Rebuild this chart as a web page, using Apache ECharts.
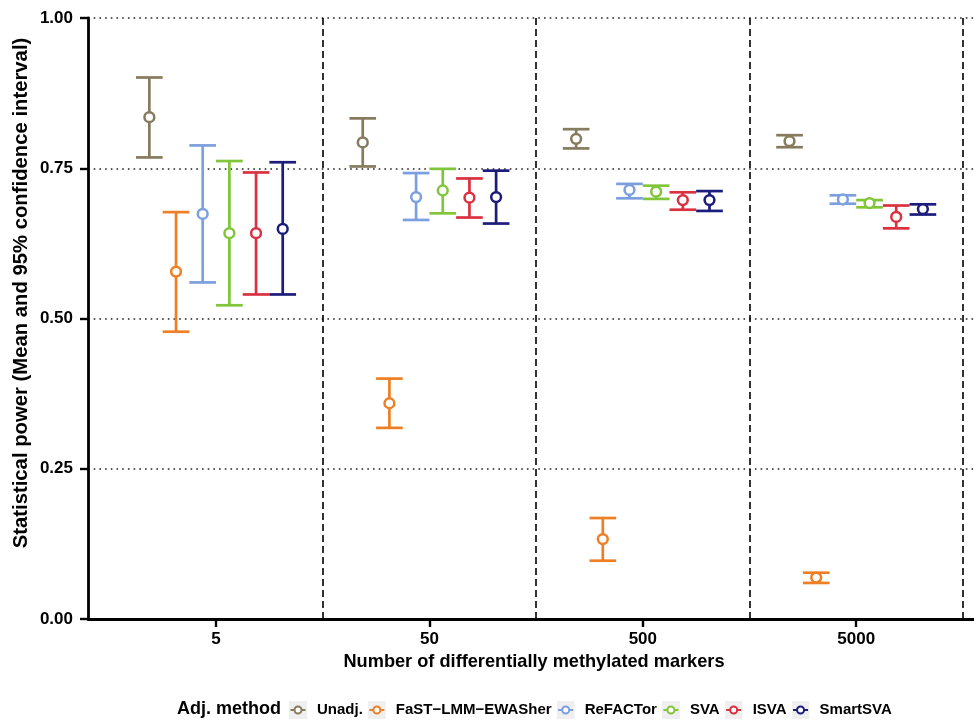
<!DOCTYPE html>
<html>
<head>
<meta charset="utf-8">
<title>Statistical power</title>
<script src="https://cdn.jsdelivr.net/npm/echarts@6/dist/echarts.min.js"></script>
<style>
  html, body { margin: 0; padding: 0; background: #fff; }
  #chart { width: 974px; height: 724px; }
</style>
</head>
<body>
<div id="chart"></div>
<script>
// categories on the x axis
const categories = ['5', '50', '500', '5000'];
const methods = ['Unadj.', 'FaST\u2212LMM\u2212EWASher', 'ReFACTor', 'SVA', 'ISVA', 'SmartSVA'];
const colors = ['#877b5e', '#ee7f24', '#7b9fdf', '#80c53a', '#da3040', '#1c1c7c'];

// mean and 95% CI, one value per category
const unadjMean = [0.835, 0.793, 0.799, 0.795];
const unadjLow = [0.768, 0.753, 0.783, 0.785];
const unadjHigh = [0.901, 0.833, 0.815, 0.805];

const fastMean = [0.578, 0.359, 0.133, 0.069];
const fastLow = [0.478, 0.318, 0.097, 0.060];
const fastHigh = [0.677, 0.400, 0.168, 0.077];

const refactorMean = [0.674, 0.702, 0.714, 0.698];
const refactorLow = [0.560, 0.664, 0.700, 0.691];
const refactorHigh = [0.788, 0.742, 0.724, 0.705];

const svaMean = [0.642, 0.713, 0.711, 0.692];
const svaLow = [0.522, 0.675, 0.699, 0.685];
const svaHigh = [0.762, 0.749, 0.721, 0.697];

const isvaMean = [0.642, 0.701, 0.697, 0.669];
const isvaLow = [0.540, 0.668, 0.681, 0.650];
const isvaHigh = [0.743, 0.733, 0.710, 0.688];

const smartMean = [0.649, 0.702, 0.697, 0.682];
const smartLow = [0.540, 0.658, 0.679, 0.673];
const smartHigh = [0.760, 0.746, 0.712, 0.690];

const yTicks = [0, 0.25, 0.5, 0.75, 1];

const allMean = [unadjMean, fastMean, refactorMean, svaMean, isvaMean, smartMean];
const allLow = [unadjLow, fastLow, refactorLow, svaLow, isvaLow, smartLow];
const allHigh = [unadjHigh, fastHigh, refactorHigh, svaHigh, isvaHigh, smartHigh];

const DODGE = 0.125; // ggplot position_dodge(0.75) / 6 groups
const FONT = '"Liberation Sans", Arial, sans-serif';

function renderErrorBar(params, api) {
  let x = api.value(0);
  let lo = api.coord([x, api.value(1)]);
  let mid = api.coord([x, api.value(2)]);
  let hi = api.coord([x, api.value(3)]);
  let half = api.size([DODGE, 0])[0] / 2;
  let color = api.visual('color');
  let line = { stroke: color, lineWidth: 2.7 };
  return {
    type: 'group',
    children: [
      { type: 'line', shape: { x1: hi[0], y1: hi[1], x2: lo[0], y2: lo[1] }, style: line },
      { type: 'line', shape: { x1: hi[0] - half, y1: hi[1], x2: hi[0] + half, y2: hi[1] }, style: line },
      { type: 'line', shape: { x1: lo[0] - half, y1: lo[1], x2: lo[0] + half, y2: lo[1] }, style: line },
      { type: 'circle', shape: { cx: mid[0], cy: mid[1], r: 4.9 }, style: { fill: '#fff', stroke: color, lineWidth: 2.5 } }
    ]
  };
}

function keyIcon(color) {
  let svg = '<svg xmlns="http://www.w3.org/2000/svg" width="36" height="36" viewBox="0 0 36 36">' +
    '<rect width="36" height="36" fill="#efefef"/>' +
    '<line x1="3" y1="18" x2="33" y2="18" stroke="' + color + '" stroke-width="4"/>' +
    '<circle cx="18" cy="18" r="7" fill="#fff" stroke="' + color + '" stroke-width="4"/></svg>';
  return 'image://data:image/svg+xml;charset=utf-8,' + encodeURIComponent(svg);
}

let series = methods.map(function (name, j) {
  let data = categories.map(function (c, i) {
    return [i + 1 + (j - 2.5) * DODGE, allLow[j][i], allMean[j][i], allHigh[j][i]];
  });
  let s = {
    name: name,
    type: 'custom',
    renderItem: renderErrorBar,
    itemStyle: { color: colors[j] },
    encode: { x: 0, y: [1, 2, 3] },
    data: data,
    z: 5
  };
  if (j === 0) {
    s.markLine = {
      silent: true,
      symbol: ['none', 'none'],
      label: { show: false },
      lineStyle: { color: '#000', width: 1.6, type: [7, 4] },
      data: [1.5, 2.5, 3.5, 4.5].map(function (v) { return { xAxis: v }; }),
      z: 1
    };
  }
  return s;
});

let myChart = echarts.init(document.getElementById('chart'));
myChart.setOption({
  animation: false,
  backgroundColor: '#fff',
  color: colors,
  textStyle: { fontFamily: FONT },
  // the panel runs past the right edge of the picture, so the axis stops at 4.55
  grid: { left: 88, right: 0, top: 18, bottom: 105 },
  title: {
    text: 'Adj. method',
    left: 177,
    top: 700,
    padding: 0,
    textStyle: { fontFamily: FONT, fontSize: 18, fontWeight: 'bold', color: '#000' }
  },
  graphic: [{
    type: 'text',
    x: 21,
    y: 293,
    rotation: Math.PI / 2,
    style: {
      text: 'Statistical power (Mean and 95% confidence interval)',
      font: 'bold 20.3px ' + FONT,
      fill: '#000',
      align: 'center',
      verticalAlign: 'middle'
    }
  }],
  legend: {
    left: 289,
    top: 701,
    padding: 0,
    itemGap: 5,
    itemWidth: 18,
    itemHeight: 18,
    selectedMode: false,
    textStyle: { fontFamily: FONT, fontSize: 15, fontWeight: 'bold', color: '#000', padding: [0, 0, 0, 5] },
    data: methods.map(function (m, j) { return { name: m, icon: keyIcon(colors[j]) }; })
  },
  xAxis: {
    type: 'value',
    min: 0.4,
    max: 4.552,
    name: 'Number of differentially methylated markers',
    nameLocation: 'middle',
    nameGap: 33,
    nameTextStyle: { fontFamily: FONT, fontSize: 18.2, fontWeight: 'bold', color: '#000', padding: [0, 0, 0, 6] },
    axisLine: { show: true, lineStyle: { color: '#000', width: 2.8 } },
    axisTick: { show: true, customValues: [1, 2, 3, 4], length: 8, lineStyle: { color: '#000', width: 2.4 } },
    axisLabel: {
      customValues: [1, 2, 3, 4],
      margin: 12,
      fontFamily: FONT, fontSize: 17, fontWeight: 'bold', color: '#000',
      formatter: function (v) { return categories[Math.round(v) - 1]; }
    },
    splitLine: { show: false }
  },
  yAxis: {
    type: 'value',
    min: 0,
    max: 1,
    interval: 0.25,
    axisLine: { show: true, lineStyle: { color: '#000', width: 2.8 } },
    axisTick: { show: true, length: 8, lineStyle: { color: '#000', width: 2.4 } },
    axisLabel: {
      margin: 15,
      fontFamily: FONT, fontSize: 17, fontWeight: 'bold', color: '#000',
      formatter: function (v) { return yTicks.indexOf(v) >= 0 ? v.toFixed(2) : ''; }
    },
    splitLine: { show: true, lineStyle: { color: '#222', width: 1.6, type: [1.6, 4.1] } }
  },
  series: series
});
window.addEventListener('resize', function () { myChart.resize(); });
</script>
</body>
</html>
